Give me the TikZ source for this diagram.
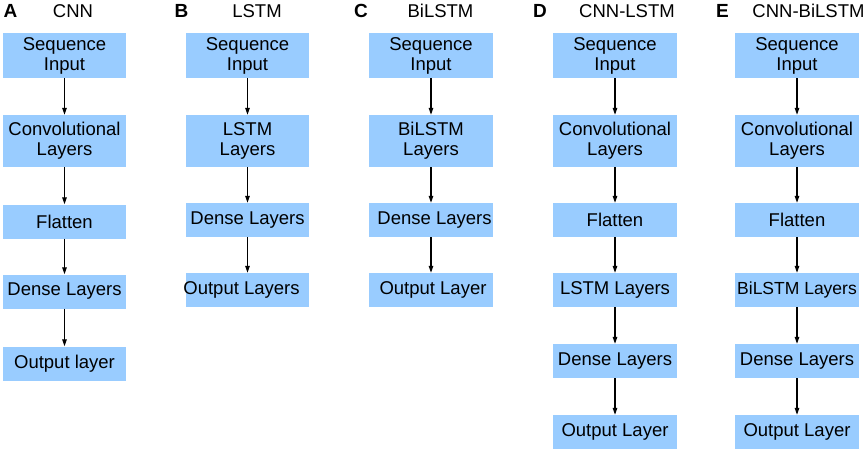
\documentclass[tikz,border=0pt]{standalone}
\usepackage{fontspec}
\setmainfont{Liberation Sans}
\usetikzlibrary{arrows.meta}
\definecolor{boxblue}{RGB}{153,204,255}
\begin{document}
\begin{tikzpicture}[x=1pt,y=-1pt,
  box/.style={fill=boxblue, inner sep=0pt, minimum width=123.5pt, align=center,
              font=\fontsize{18.5}{20}\selectfont},
  twoline/.style={minimum height=45pt},
  convbox/.style={minimum height=52pt},
  oneline/.style={minimum height=34pt},
  arr/.style={-{Triangle[length=7pt,width=4.5pt]}, line width=1.2pt, black},
  ttl/.style={anchor=base, inner sep=0pt, font=\fontsize{18.5}{20}\selectfont},
  lett/.style={anchor=base, inner sep=0pt, font=\fontsize{19}{20}\selectfont\bfseries}]
\useasboundingbox (0,0) rectangle (867,451);

% titles
\node[lett] (tA) at (10.5,17) {A};
\node[ttl] (nA) at (73,17) {CNN};
\node[lett] (tB) at (181.5,17) {B};
\node[ttl] (nB) at (257,17) {LSTM};
\node[lett] (tC) at (361,17) {C};
\node[ttl] (nC) at (440.5,17) {BiLSTM};
\node[lett] (tD) at (540,17) {D};
\node[ttl] (nD) at (627,17) {CNN-LSTM};
\node[lett] (tE) at (722.5,17) {E};
\node[ttl] (nE) at (808.5,17) {CNN-BiLSTM};

% column A
\node[box,twoline] (a1) at (64.5,55.5) {Sequence\\Input};
\node[box,convbox] (a2) at (64.5,141) {Convolutional\\Layers};
\node[box,oneline] (a3) at (64.5,221.5) {Flatten};
\node[box,oneline] (a4) at (64.5,291.5) {Dense Layers};
\node[box,oneline] (a5) at (64.5,363.5) {Output layer};

% column B
\node[box,twoline] (b1) at (247.5,55.5) {Sequence\\Input};
\node[box,convbox] (b2) at (247.5,141) {LSTM\\Layers};
\node[box,oneline] (b3) at (247.5,220) {Dense Layers};
\node[box,oneline] (b4) at (247.5,290) {\makebox[0pt]{\kern-12pt Output Layers}};

% column C
\node[box,twoline] (c1) at (431,55.5) {Sequence\\Input};
\node[box,convbox] (c2) at (431,141) {BiLSTM\\Layers};
\node[box,oneline] (c3) at (431,220) {\makebox[0pt]{\kern7pt Dense Layers}};
\node[box,oneline] (c4) at (431,290) {\makebox[0pt]{\kern4pt Output Layer}};

% column D
\node[box,twoline] (d1) at (615,55.5) {Sequence\\Input};
\node[box,convbox] (d2) at (615,141) {Convolutional\\Layers};
\node[box,oneline] (d3) at (615,220) {Flatten};
\node[box,oneline] (d4) at (615,290) {LSTM Layers};
\node[box,oneline] (d5) at (615,361) {Dense Layers};
\node[box,oneline] (d6) at (615,432) {Output Layer};

% column E
\node[box,twoline] (e1) at (797,55.5) {Sequence\\Input};
\node[box,convbox] (e2) at (797,141) {Convolutional\\Layers};
\node[box,oneline] (e3) at (797,220) {Flatten};
\node[box,oneline] (e4) at (797,290) {\makebox[0pt]{\fontsize{17.5}{20}\selectfont BiLSTM Layers}};
\node[box,oneline] (e5) at (797,361) {Dense Layers};
\node[box,oneline] (e6) at (797,432) {Output Layer};

% arrows
\foreach \c/\n in {a/5,b/4,c/4,d/6,e/6}{
  \foreach \i [evaluate=\i as \j using int(\i+1)] in {1,...,\numexpr\n-1\relax}{
    \draw[arr] (\c\i.south) -- (\c\j.north);
  }
}
\end{tikzpicture}
\end{document}
